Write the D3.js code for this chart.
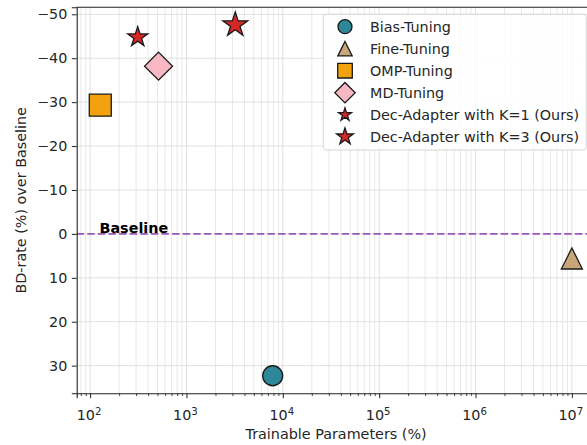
<!DOCTYPE html>
<html>
<head>
<meta charset="utf-8">
<script src="https://cdn.jsdelivr.net/npm/d3@7"></script>
<style>
  html, body { margin: 0; padding: 0; background: #fff; }
  svg { display: block; }
  text { font-family: "DejaVu Sans", sans-serif; }
</style>
</head>
<body>
<svg id="chart" width="587" height="445"></svg>
<script>
// ---- data ----
const methods = ["Bias-Tuning", "Fine-Tuning", "OMP-Tuning", "MD-Tuning",
                 "Dec-Adapter with K=1 (Ours)", "Dec-Adapter with K=3 (Ours)"];
const trainableParams = [7850, 1.0e7, 127.5, 513, 312, 3210];
const bdRate = [32.3, 5.6, -29.3, -38.2, -44.8, -47.6];
const yTickValues = [-50, -40, -30, -20, -10, 0, 10, 20, 30];
const xTickExponents = [2, 3, 4, 5, 6, 7];
const baselineValue = 0;
const baselineLabel = "Baseline";
const xLabel = "Trainable Parameters (%)";
const yLabel = "BD-rate (%) over Baseline";

// ---- styles ----
const FS = 14.35;
const markerStyle = [
  { shape: "circle",   fill: "#2e8799", size: 10,  legSize: 7 },
  { shape: "triangle", fill: "#c9a679", size: 10.5, legSize: 7.2 },
  { shape: "square",   fill: "#f3a20f", size: 11,  legSize: 7.3 },
  { shape: "diamond",  fill: "#f7b8c4", size: 14,  legSize: 10.2 },
  { shape: "star",     fill: "#d62728", size: 10.5, legSize: 6.8 },
  { shape: "star",     fill: "#d62728", size: 13,  legSize: 8.8 }
];

function shapePath(shape, s) {
  if (shape === "circle") return d3.symbol(d3.symbolCircle, Math.PI * s * s)();
  if (shape === "square") return d3.symbol(d3.symbolSquare, (2 * s) * (2 * s))();
  if (shape === "diamond") {
    const side = s * Math.SQRT2;
    return d3.symbol(d3.symbolSquare, side * side)();
  }
  if (shape === "triangle") {
    const tri = { draw(ctx, size) { const r = Math.sqrt(size) / 2;
      ctx.moveTo(0, -r); ctx.lineTo(r, r); ctx.lineTo(-r, r); ctx.closePath(); } };
    return d3.symbol(tri, (2 * s) * (2 * s))();
  }
  if (shape === "star") return d3.symbol(d3.symbolStar, s * s / 0.8908130915292852)();
}

(function draw() {
const svg = d3.select("#chart");
const pLeft = 76.7, pTop = 7.3, pBottom = 393.3;
const decadePx = 96.35;

const lx = trainableParams.map(Math.log10);
const lxMin = d3.min(lx), lxMax = d3.max(lx);
const mx = (lxMax - lxMin) * 0.05;
const xDom = [Math.pow(10, lxMin - mx), Math.pow(10, lxMax + mx)];
const pRight = pLeft + (Math.log10(xDom[1]) - Math.log10(xDom[0])) * decadePx;
const yMin = d3.min(bdRate), yMax = d3.max(bdRate);
const my = (yMax - yMin) * 0.05;

const x = d3.scaleLog().domain(xDom).range([pLeft, pRight]);
const y = d3.scaleLinear().domain([yMin - my, yMax + my]).range([pTop, pBottom]);

const minorTicks = [];
for (let e = 1; e <= 7; e++) for (let m = 2; m <= 9; m++) {
  const v = m * Math.pow(10, e);
  if (v >= xDom[0] && v <= xDom[1]) minorTicks.push(v);
}
const majorTicks = xTickExponents.map(e => Math.pow(10, e));

svg.append("defs").append("clipPath").attr("id", "clip")
  .append("rect").attr("x", pLeft).attr("y", pTop).attr("width", pRight - pLeft).attr("height", pBottom - pTop);

const grid = svg.append("g").attr("clip-path", "url(#clip)");
grid.selectAll(".gxm").data(minorTicks).join("line")
  .attr("x1", d => x(d)).attr("x2", d => x(d)).attr("y1", pTop).attr("y2", pBottom)
  .attr("stroke", "#e5e5e5").attr("stroke-width", 0.9);
grid.selectAll(".gxM").data(majorTicks).join("line")
  .attr("x1", d => x(d)).attr("x2", d => x(d)).attr("y1", pTop).attr("y2", pBottom)
  .attr("stroke", "#e0e0e0").attr("stroke-width", 1);
grid.selectAll(".gy").data(yTickValues).join("line")
  .attr("x1", pLeft).attr("x2", pRight).attr("y1", d => y(d)).attr("y2", d => y(d))
  .attr("stroke", "#e0e0e0").attr("stroke-width", 1);

grid.append("line")
  .attr("x1", pLeft).attr("x2", pRight).attr("y1", y(baselineValue)).attr("y2", y(baselineValue))
  .attr("stroke", "#9b59b6").attr("stroke-width", 1.6).attr("stroke-dasharray", "7.4,3.2");
svg.append("text").attr("x", 99.5).attr("y", y(baselineValue) - 0.5)
  .attr("font-size", FS).attr("font-weight", "bold").attr("fill", "#000").text(baselineLabel);

const xAxis = d3.axisBottom(x).tickValues(majorTicks).tickSize(4.9).tickFormat("");
const gx = svg.append("g").attr("transform", `translate(0,${pBottom})`).call(xAxis);
gx.select(".domain").attr("stroke", "#222").attr("stroke-width", 1.1);
gx.selectAll(".tick line").attr("stroke", "#222").attr("stroke-width", 1);
const gxm = svg.append("g").attr("transform", `translate(0,${pBottom})`)
  .call(d3.axisBottom(x).tickValues(minorTicks).tickSize(2.8).tickFormat(""));
gxm.select(".domain").remove();
gxm.selectAll(".tick line").attr("stroke", "#222").attr("stroke-width", 0.8);

const xl = svg.append("g");
xTickExponents.forEach(e => {
  const t = xl.append("text").attr("x", x(Math.pow(10, e)) - 1).attr("y", 420)
    .attr("text-anchor", "middle").attr("font-size", FS).attr("fill", "#262626");
  t.append("tspan").text("10");
  t.append("tspan").attr("dy", -5.5).attr("font-size", 10.2).text(String(e));
});

const yAxis = d3.axisLeft(y).tickValues(yTickValues).tickSize(4.9).tickPadding(4.5)
  .tickFormat(d => (d < 0 ? "\u2212" + Math.abs(d) : String(d)));
const gy = svg.append("g").attr("transform", `translate(${pLeft},0)`).call(yAxis);
gy.select(".domain").attr("stroke", "#222").attr("stroke-width", 1.1);
gy.selectAll(".tick line").attr("stroke", "#222").attr("stroke-width", 1);
gy.selectAll(".tick text").attr("font-size", FS).attr("fill", "#262626")
  .attr("font-family", "DejaVu Sans, sans-serif");

svg.append("line").attr("x1", pLeft).attr("x2", pRight).attr("y1", pTop).attr("y2", pTop)
  .attr("stroke", "#222").attr("stroke-width", 1.1);

svg.append("text").attr("x", (pLeft + pRight) / 2).attr("y", 439).attr("text-anchor", "middle")
  .attr("font-size", FS).attr("fill", "#262626").text(xLabel);
svg.append("text").attr("transform", `translate(26,${(pTop + pBottom) / 2}) rotate(-90)`)
  .attr("text-anchor", "middle").attr("font-size", FS).attr("fill", "#262626").text(yLabel);

svg.append("g").selectAll("path").data(methods).join("path")
  .attr("transform", (d, i) => `translate(${x(trainableParams[i])},${y(bdRate[i])})` +
        (markerStyle[i].shape === "diamond" ? " rotate(45)" : ""))
  .attr("d", (d, i) => shapePath(markerStyle[i].shape, markerStyle[i].size))
  .attr("fill", (d, i) => markerStyle[i].fill)
  .attr("stroke", "#1a1a1a").attr("stroke-width", 1.3).attr("stroke-linejoin", "miter");

const leg = svg.append("g");
leg.append("rect").attr("x", 323.3).attr("y", 14.3).attr("width", 263).attr("height", 135.7)
  .attr("rx", 3).attr("fill", "#fff").attr("fill-opacity", 0.85)
  .attr("stroke", "#d5d5d5").attr("stroke-width", 1);
methods.forEach((m, i) => {
  const cy = 26.7 + i * 22;
  leg.append("path")
    .attr("transform", `translate(345,${cy})` + (markerStyle[i].shape === "diamond" ? " rotate(45)" : ""))
    .attr("d", shapePath(markerStyle[i].shape, markerStyle[i].legSize))
    .attr("fill", markerStyle[i].fill).attr("stroke", "#1a1a1a").attr("stroke-width", 1.3);
  leg.append("text").attr("x", 370).attr("y", cy + 5).attr("font-size", FS)
    .attr("fill", "#262626").text(m);
});
})();
</script>
</body>
</html>
